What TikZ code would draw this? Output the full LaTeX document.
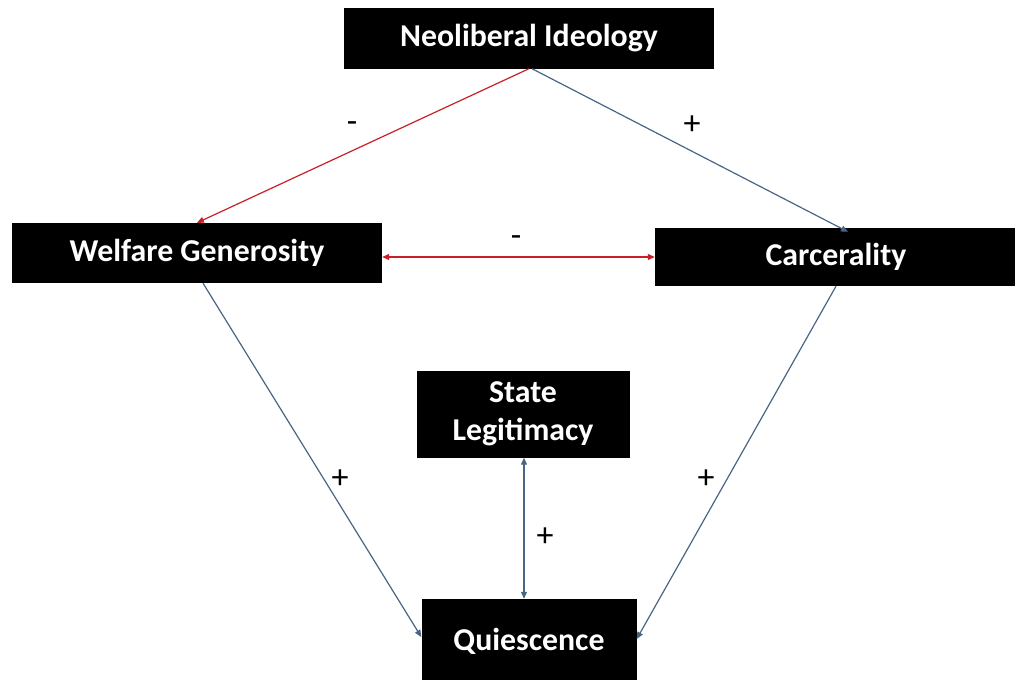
\documentclass[tikz,border=0pt]{standalone}
\usepackage{xcolor}
\usepackage{fontspec}
\setmainfont{Carlito}
\usepackage{tikz}
\usetikzlibrary{
	arrows.meta
}

\definecolor{neg-red}{RGB}{200,32,38}
\definecolor{pos-blue}{RGB}{72,102,132}

\tikzset{
	factor/.style={fill=black,text=white,align=center,inner sep=0pt,
		font=\bfseries\fontsize{31.8}{38}\selectfont},
	negarrow/.style={neg-red,line width=1.2pt,-{Triangle[length=7pt,width=6pt]}},
	posarrow/.style={pos-blue,line width=1.2pt,-{Triangle[length=7pt,width=6pt]}},
	sign/.style={font=\fontsize{34}{38}\selectfont}
}

\begin{document}
\begin{tikzpicture}[x=1pt,y=-1pt]
		\useasboundingbox (0,0) rectangle (1015,680);
		\node[factor,minimum width=370pt,minimum height=61pt] at (529, 38) (neolib-ideology)
			{Neoliberal Ideology};
		\node[factor,minimum width=370pt,minimum height=60pt] at (197, 253) (welfare-generosity)
			{Welfare Generosity};
		\node[factor,minimum width=362pt,minimum height=58pt] at (836, 257) (carcerality)
			{Carcerality};
		\node[factor,minimum width=213pt,minimum height=87pt] at (523, 414) (state-legitimacy)
			{State\\Legitimacy};
		\node[factor,minimum width=215pt,minimum height=84pt] at (529, 641) (quiescence)
			{Quiescence};

		\draw[negarrow] (neolib-ideology.south) -- (welfare-generosity.north);
		\draw[posarrow] ([xshift=3pt]neolib-ideology.south) -- ([xshift=12pt,yshift=-4pt]carcerality.north);
		\draw[negarrow,{Triangle[length=7pt,width=6pt]}-{Triangle[length=7pt,width=6pt]}]
			(welfare-generosity.east |- carcerality.west) -- (carcerality.west);
		\draw[posarrow] ([xshift=6pt]welfare-generosity.south) -- ([yshift=4pt]quiescence.west);
		\draw[posarrow] (carcerality.south) -- ([yshift=2pt]quiescence.east);
		\draw[posarrow,{Triangle[length=7pt,width=6pt]}-{Triangle[length=7pt,width=6pt]}]
			([xshift=1pt]state-legitimacy.south) -- ([xshift=1pt]state-legitimacy.south |- quiescence.north);

		\node[sign] at (352, 127) (sign-neolib-welfare) {-};
		\node[sign] at (692, 125) (sign-neolib-carc) {+};
		\node[sign] at (516, 241) (sign-welfare-carc) {-};
		\node[sign] at (340, 479) (sign-welfare-quies) {+};
		\node[sign] at (706, 479) (sign-carc-quies) {+};
		\node[sign] at (545, 537) (sign-legit-quies) {+};
	\end{tikzpicture}
\end{document}
